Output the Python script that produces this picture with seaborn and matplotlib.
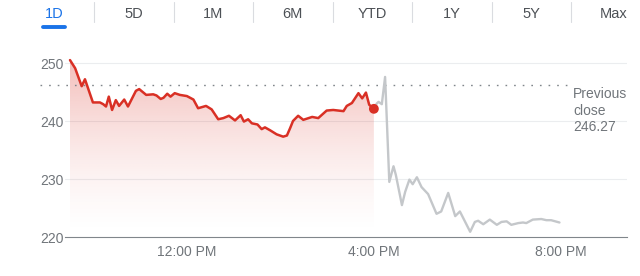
import numpy as np
import pandas as pd
import matplotlib
matplotlib.use("Agg")
import matplotlib.pyplot as plt
import seaborn as sns
from matplotlib.patches import Polygon
from matplotlib.lines import Line2D

# ---------------- data ----------------
tabs = ["1D", "5D", "1M", "6M", "YTD", "1Y", "5Y", "Max"]
selected_tab = "1D"

# regular session (hours since midnight, price)
session_hours = [9.50, 9.61, 9.75, 9.82, 9.99, 10.14, 10.21, 10.27, 10.33, 10.40,
                 10.48, 10.55, 10.66, 10.74, 10.91, 10.98, 11.13, 11.28, 11.35, 11.44,
                 11.50, 11.58, 11.65, 11.74, 11.85, 12.00, 12.14, 12.24, 12.41, 12.53,
                 12.67, 12.78, 12.90, 13.03, 13.15, 13.22, 13.31, 13.39, 13.51, 13.60,
                 13.67, 13.78, 13.92, 14.06, 14.14, 14.21, 14.27, 14.38, 14.49, 14.68,
                 14.81, 14.99, 15.13, 15.35, 15.42, 15.53, 15.67, 15.75, 15.83, 15.90,
                 16.00]
session_price = [250.5, 249.1, 246.0, 247.2, 243.2, 243.2, 242.9, 242.5, 244.2, 241.9,
                 243.6, 242.6, 243.7, 242.5, 245.2, 245.5, 244.5, 244.6, 244.4, 243.8,
                 244.0, 244.7, 244.2, 244.8, 244.5, 244.3, 243.7, 242.2, 242.6, 242.0,
                 240.3, 240.5, 240.9, 240.1, 241.0, 239.9, 240.3, 239.6, 239.4, 238.6,
                 238.9, 238.4, 237.7, 237.3, 237.5, 238.8, 240.0, 240.9, 240.2, 240.7,
                 240.5, 241.8, 241.9, 241.7, 242.6, 243.1, 244.8, 243.9, 244.9, 242.8,
                 242.1]

# after-hours
after_hours = [16.00, 16.06, 16.10, 16.17, 16.24, 16.33, 16.42, 16.47, 16.60, 16.67,
               16.76, 16.83, 16.92, 17.02, 17.16, 17.34, 17.44, 17.59, 17.74, 17.84,
               18.06, 18.16, 18.23, 18.34, 18.48, 18.63, 18.73, 18.84, 18.94, 19.09,
               19.19, 19.26, 19.40, 19.58, 19.69, 19.79, 19.97]
after_price = [242.1, 243.0, 243.3, 242.9, 247.6, 229.5, 232.2, 230.7, 225.5, 227.8,
               229.9, 229.1, 230.3, 228.6, 227.4, 224.0, 224.4, 227.6, 223.6, 224.4,
               220.9, 222.6, 222.8, 222.2, 223.0, 222.1, 222.6, 222.7, 222.1, 222.4,
               222.5, 222.4, 223.0, 223.1, 222.9, 222.9, 222.5]

prev_close = 246.27
y_ticks = [220, 230, 240, 250]
x_ticks = [12, 16, 20]
x_tick_labels = ["12:00 PM", "4:00 PM", "8:00 PM"]

# ---------------- style ----------------
sns.set_style("white")
plt.rcParams["font.family"] = ["Liberation Sans", "DejaVu Sans"]

RED = "#d93025"
GRAY_LINE = "#c4c7ca"
TXT = "#70757a"
BLUE = "#1a73e8"

W, H = 640, 276
fig = plt.figure(figsize=(W / 100, H / 100), dpi=100)
ax = fig.add_axes([65 / W, 1 - 237 / H, 562 / W, 187 / H])

ymin, ymax = 220, 220 + 187 / 5.8
xmin = 9.5 - 5 / 46.75
xmax = 9.5 + 557 / 46.75
ax.set_xlim(xmin, xmax)
ax.set_ylim(ymin, ymax)

df_s = pd.DataFrame({"t": session_hours, "p": session_price})
df_a = pd.DataFrame({"t": after_hours, "p": after_price})

# gridlines
for yv in [230, 240, 250]:
    ax.axhline(yv, color="#ebedef", lw=0.8, zorder=0)

# gradient fill under session line
verts = [(session_hours[0], ymin)] + list(zip(session_hours, session_price)) + [(session_hours[-1], ymin)]
clip = Polygon(verts, closed=True, facecolor="none", edgecolor="none", transform=ax.transData)
ax.add_patch(clip)
n = 256
frac = np.linspace(1, 0, n)[:, None]  # top -> bottom
rgba = np.zeros((n, 2, 4))
rgba[..., 0] = 217 / 255
rgba[..., 1] = 48 / 255
rgba[..., 2] = 37 / 255
rgba[..., 3] = 0.34 * frac ** 1.5
img = ax.imshow(rgba, extent=[session_hours[0], session_hours[-1], ymin, ymax],
                aspect="auto", origin="upper", zorder=1, interpolation="bilinear")
img.set_clip_path(clip)

# previous close dotted line
ax.plot([-25 / 562, 503 / 562], [prev_close, prev_close], transform=ax.get_yaxis_transform(),
        color="#80868b", lw=1.0, linestyle=(0, (1.2, 5.0)), clip_on=False, zorder=2)

sns.lineplot(data=df_a, x="t", y="p", ax=ax, color=GRAY_LINE, lw=1.7, zorder=3)
sns.lineplot(data=df_s, x="t", y="p", ax=ax, color=RED, lw=1.8, zorder=4)
sns.scatterplot(x=[session_hours[-1]], y=[session_price[-1]], ax=ax, color=RED, s=50,
                edgecolor="none", zorder=5)

ax.set_xlabel("")
ax.set_ylabel("")
for s in ["top", "right", "left"]:
    ax.spines[s].set_visible(False)
ax.spines["bottom"].set_color("#80868b")
ax.spines["bottom"].set_linewidth(0.8)
ax.set_yticks(y_ticks)
ax.set_yticklabels([str(v) for v in y_ticks])
ax.set_xticks(x_ticks)
ax.set_xticklabels(x_tick_labels)
ax.tick_params(axis="y", length=0, pad=1, labelsize=10, labelcolor=TXT)
ax.tick_params(axis="x", length=4.3, width=0.8, color="#80868b", direction="out",
               pad=1.5, labelsize=10, labelcolor=TXT)
ax.patch.set_alpha(0)

ax.text(508 / 562, 245.8, "Previous\nclose\n" + f"{prev_close:.2f}",
        transform=ax.get_yaxis_transform(), ha="left", va="top", fontsize=10,
        color=TXT, linespacing=1.2, clip_on=False)

# tabs
tab_x = [54, 133.5, 213, 292.5, 372, 451.5, 531, 614]
sep_x = [94, 173.5, 253, 332.5, 412, 491.5, 571]
for name, xc in zip(tabs, tab_x):
    fig.text(xc / W, 1 - 14.5 / H, name, ha="center", va="center", fontsize=10.5,
             color=BLUE if name == selected_tab else "#4d5156")
for xs in sep_x:
    fig.add_artist(Line2D([xs / W, xs / W], [1 - 2 / H, 1 - 22 / H], color="#dadce0",
                          lw=0.8, transform=fig.transFigure))
i = tabs.index(selected_tab)
fig.add_artist(Line2D([(tab_x[i] - 11) / W, (tab_x[i] + 11) / W], [1 - 27 / H, 1 - 27 / H],
                      color=BLUE, lw=2.8, solid_capstyle="round", transform=fig.transFigure))

fig.savefig("out.png", dpi=100)
